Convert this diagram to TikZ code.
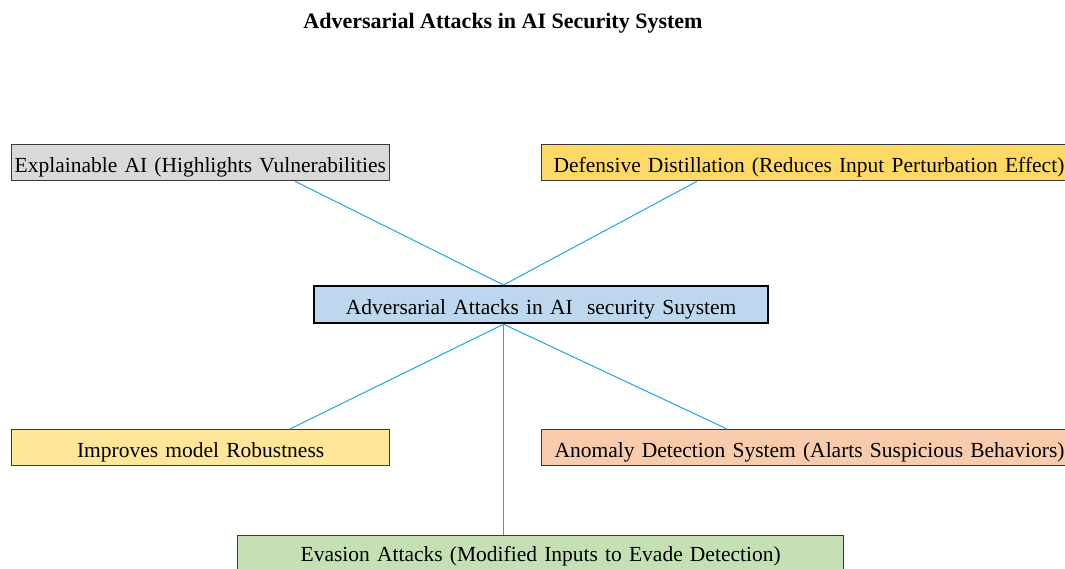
\documentclass[tikz,border=0pt]{standalone}
\usepackage{fontspec}
\setmainfont{Liberation Serif}
\usetikzlibrary{calc}
\definecolor{grayfill}{HTML}{D9D9D9}
\definecolor{goldfill}{HTML}{FFD966}
\definecolor{lightgold}{HTML}{FFE699}
\definecolor{bluefill}{HTML}{BDD7EE}
\definecolor{peachfill}{HTML}{F8CBAD}
\definecolor{greenfill}{HTML}{C5E0B4}
\definecolor{linkcol}{HTML}{1BA8E0}
\definecolor{boxedge}{HTML}{3A3A3A}
\tikzset{
  box/.style={draw=boxedge, line width=1.3pt, rectangle, anchor=north west, inner xsep=0pt, inner ysep=0pt,
    minimum height=36pt, text height=21pt, text depth=2pt, font=\fontsize{21.5}{24}\selectfont},
  link/.style={draw=linkcol, line width=1pt}
}
\begin{document}
\begin{tikzpicture}[x=1pt,y=-1pt]
\useasboundingbox (0,0) rectangle (1065,569);
\node[font=\bfseries\fontsize{22}{26}\selectfont] (title) at (503,23) {Adversarial Attacks in AI Security System};

\node[box, fill=grayfill, minimum width=378pt, text width=376pt, align=left] (expl) at (11,144) {\hspace*{2pt}Explainable AI (Highlights Vulnerabilities};
\node[box, fill=goldfill, minimum width=580pt, text width=570pt, align=left] (def) at (541,144) {\hspace*{7pt}Defensive Distillation (Reduces Input Perturbation Effect)};
\node[box, fill=bluefill, draw=black, line width=2.2pt, minimum width=454pt, minimum height=37pt, text width=454pt, align=center] (center) at (313,285) {Adversarial Attacks in AI\ \ security Suystem};
\node[box, fill=lightgold, minimum width=378pt, text width=378pt, align=center] (impr) at (11,429) {Improves model Robustness};
\node[box, fill=peachfill, minimum width=580pt, text width=570pt, align=left] (anom) at (541,429) {\hspace*{8pt}Anomaly Detection System (Alarts Suspicious Behaviors)};
\node[box, fill=greenfill, minimum width=606pt, text width=606pt, text height=17pt, align=center] (evas) at (237,535) {Evasion Attacks (Modified Inputs to Evade Detection)};

\coordinate (ctop) at ([xshift=190.5pt]center.north west);
\coordinate (cbot) at ([xshift=190.5pt]center.south west);
\draw[link] ([xshift=284pt]expl.south west) -- (ctop);
\draw[link] ([xshift=156pt]def.south west) -- (ctop);
\draw[link] (cbot) -- ([xshift=279pt]impr.north west);
\draw[link] (cbot) -- ([xshift=186pt]anom.north west);
\draw[link] (cbot) -- ([xshift=266.5pt]evas.north west);
\end{tikzpicture}
\end{document}
